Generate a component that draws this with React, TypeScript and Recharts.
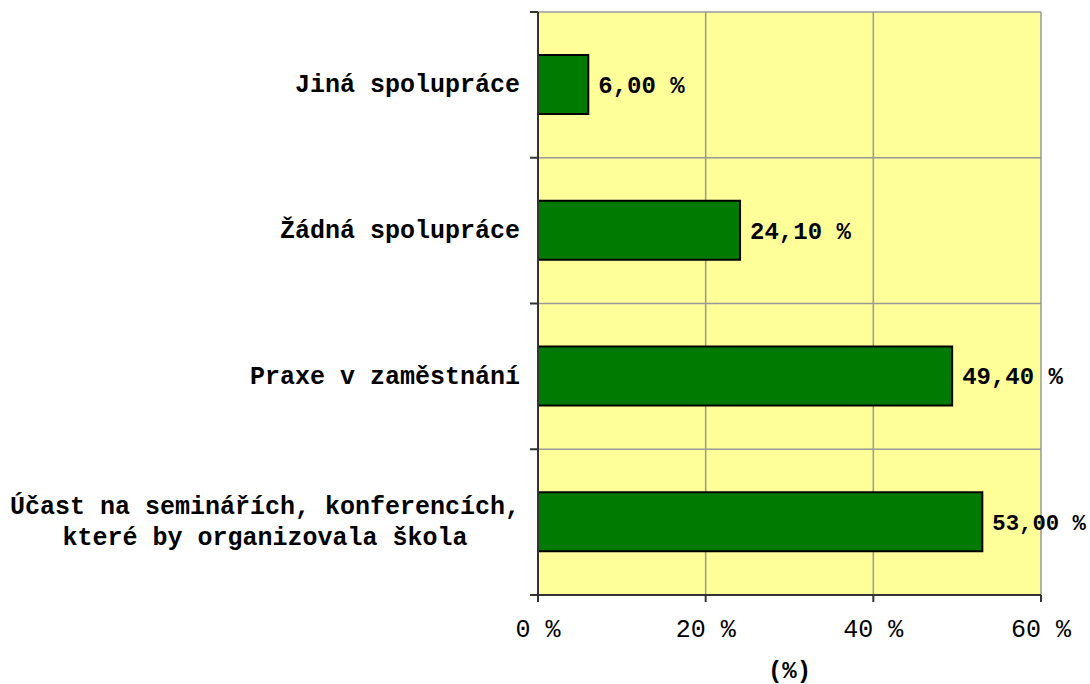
import { BarChart, Bar, XAxis, YAxis, CartesianGrid, LabelList, ReferenceLine } from "recharts"

const categories = [
    "Jiná spolupráce",
    "Žádná spolupráce",
    "Praxe v zaměstnání",
    "Účast na seminářích, konferencích,\nkteré by organizovala škola",
]
const shares = [6.0, 24.1, 49.4, 53.0]
const xTicks = [0, 20, 40, 60]
const rowBounds = [0, 1, 2, 3, 4]

const CHART_W = 1090
const CHART_H = 684

// each category sits in the middle of its row, rows are separated by ticks
const data = categories.map((name, i) => ({ name, value: shares[i], row: i + 0.5 }))

const MONO = "'Liberation Mono', 'Courier New', monospace"
const LABEL_SIZE = 25
const GRID = "#999999"

function CategoryLabel({ x, y, height, value }: any) {
    const lines = String(value).split("\n")
    const rx = x - 18
    const cy = y + height / 2
    if (lines.length === 1) {
        return (
            <text x={rx} y={cy} dy="0.3em" textAnchor="end" fontFamily={MONO} fontWeight="bold" fontSize={LABEL_SIZE} fill="#000">
                {lines[0]}
            </text>
        )
    }
    const longest = Math.max(...lines.map((l) => l.length))
    const cx = rx - (longest * LABEL_SIZE * 0.6) / 2
    const lh = 31
    const start = -((lines.length - 1) * lh) / 2
    return (
        <text textAnchor="middle" fontFamily={MONO} fontWeight="bold" fontSize={LABEL_SIZE} fill="#000">
            {lines.map((l, i) => (
                <tspan key={i} x={cx} y={cy + start + i * lh} dy="0.3em">
                    {l}
                </tspan>
            ))}
        </text>
    )
}

const pct = (v: any) => `${Number(v).toFixed(2).replace(".", ",")} %`

function ValueLabel({ x, y, width, height, value }: any) {
    const text = pct(value)
    const lx = x + width + 10
    const room = CHART_W - lx - 4
    const fs = Math.min(24, room / (text.length * 0.6))
    return (
        <text x={lx} y={y + height / 2} dy="0.35em" fontFamily={MONO} fontWeight="bold" fontSize={fs} fill="#000">
            {text}
        </text>
    )
}

export default function App() {
    return (
        <div style={{ position: "absolute", left: 0, top: 0 }}>
            <BarChart
                width={CHART_W}
                height={CHART_H}
                data={data}
                layout="vertical"
                margin={{ top: 12, right: 49, bottom: 0, left: 0 }}
            >
                <CartesianGrid fill="#FFFF99" stroke={GRID} strokeWidth={1.5} horizontal={false} />
                {rowBounds.slice(0, -1).map((b) => (
                    <ReferenceLine key={b} y={b} stroke={GRID} strokeWidth={1.5} />
                ))}
                <XAxis
                    type="number"
                    domain={[0, 60]}
                    ticks={xTicks}
                    tickFormatter={(v) => `${v} %`}
                    height={89}
                    stroke="#333"
                    strokeWidth={2}
                    tickSize={7}
                    tickMargin={17}
                    tick={{ fill: "#000", fontFamily: MONO, fontSize: 25 }}
                    label={{
                        value: "(%)",
                        position: "insideBottom",
                        offset: 6,
                        fill: "#000",
                        fontFamily: MONO,
                        fontWeight: "bold",
                        fontSize: 24,
                    }}
                />
                <YAxis
                    type="number"
                    dataKey="row"
                    domain={[0, 4]}
                    ticks={rowBounds}
                    width={538}
                    tickSize={8}
                    tickFormatter={() => ""}
                    stroke="#333"
                    strokeWidth={2}
                />
                <Bar
                    dataKey="value"
                    fill="#007A00"
                    stroke="#000"
                    strokeWidth={2}
                    barSize={59}
                    isAnimationActive={false}
                >
                    <LabelList dataKey="name" content={<CategoryLabel />} />
                    <LabelList dataKey="value" content={<ValueLabel />} />
                </Bar>
            </BarChart>
        </div>
    )
}
